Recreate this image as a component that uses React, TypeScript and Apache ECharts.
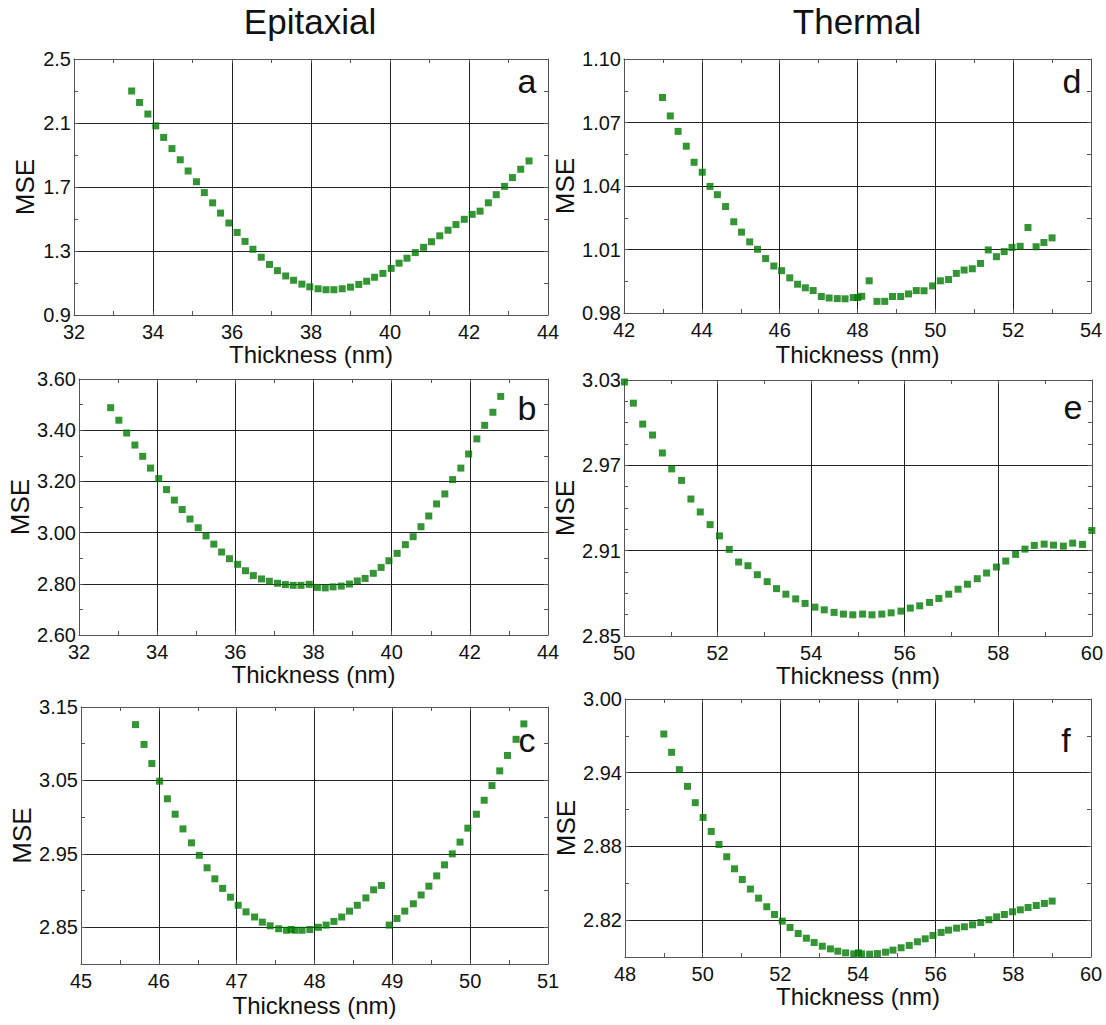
import React, { useEffect, useRef } from "react";
import * as echarts from "echarts";

// ---------- data ----------
const aThickness = [33.46,33.66,33.87,34.07,34.27,34.48,34.69,34.89,35.10,35.30,35.51,35.71,35.92,36.13,36.33,36.53,36.74,36.95,37.15,37.36,37.56,37.77,37.97,38.18,38.38,38.58,38.79,39.00,39.21,39.41,39.61,39.82,40.03,40.23,40.43,40.64,40.85,41.05,41.26,41.47,41.67,41.88,42.08,42.28,42.49,42.69,42.90,43.10,43.31,43.52];
const aMse = [2.300,2.228,2.156,2.082,2.010,1.940,1.870,1.800,1.733,1.665,1.601,1.537,1.475,1.416,1.360,1.311,1.261,1.216,1.177,1.144,1.117,1.093,1.076,1.064,1.058,1.058,1.064,1.074,1.091,1.111,1.136,1.160,1.191,1.224,1.255,1.290,1.323,1.358,1.395,1.430,1.465,1.498,1.529,1.549,1.601,1.652,1.704,1.759,1.811,1.863];

const bThickness = [32.81,33.02,33.22,33.43,33.63,33.83,34.04,34.24,34.44,34.64,34.84,35.05,35.25,35.45,35.65,35.85,36.06,36.26,36.46,36.67,36.87,37.08,37.28,37.48,37.68,37.89,38.10,38.30,38.50,38.71,38.92,39.12,39.32,39.53,39.73,39.93,40.14,40.35,40.55,40.75,40.95,41.15,41.36,41.56,41.77,41.97,42.18,42.38,42.59,42.79];
const bMse = [3.488,3.439,3.389,3.342,3.298,3.252,3.211,3.168,3.127,3.090,3.053,3.019,2.987,2.955,2.924,2.898,2.876,2.851,2.832,2.819,2.810,2.802,2.797,2.794,2.794,2.798,2.786,2.784,2.788,2.791,2.799,2.811,2.821,2.841,2.864,2.890,2.919,2.953,2.984,3.023,3.065,3.112,3.151,3.207,3.252,3.307,3.366,3.419,3.470,3.532];

const cThickness = [45.70,45.81,45.91,46.01,46.11,46.21,46.31,46.42,46.52,46.62,46.72,46.82,46.92,47.02,47.12,47.23,47.33,47.43,47.54,47.64,47.70,47.75,47.84,47.94,48.05,48.15,48.25,48.35,48.45,48.55,48.66,48.76,48.86,48.96,49.06,49.16,49.27,49.37,49.47,49.57,49.67,49.77,49.87,49.97,50.08,50.18,50.28,50.38,50.48,50.59,50.69];
const cMse = [3.126,3.099,3.073,3.049,3.025,3.004,2.984,2.965,2.948,2.931,2.916,2.903,2.891,2.880,2.871,2.864,2.857,2.852,2.848,2.846,2.847,2.846,2.846,2.847,2.850,2.853,2.858,2.864,2.872,2.880,2.890,2.901,2.907,2.853,2.862,2.872,2.882,2.894,2.906,2.920,2.935,2.950,2.966,2.985,3.004,3.023,3.043,3.063,3.084,3.106,3.127];

const dThickness = [42.99,43.19,43.39,43.60,43.80,44.01,44.21,44.40,44.61,44.82,45.02,45.23,45.43,45.64,45.85,46.05,46.26,46.46,46.66,46.86,47.07,47.27,47.48,47.68,47.89,48.01,48.11,48.30,48.50,48.70,48.90,49.11,49.31,49.51,49.71,49.93,50.13,50.34,50.54,50.74,50.95,51.16,51.36,51.57,51.77,51.97,52.18,52.38,52.59,52.79,53.00];
const dMse = [1.0818,1.0731,1.0658,1.0588,1.0512,1.0465,1.0398,1.0359,1.0303,1.0231,1.0182,1.0136,1.0101,1.0057,1.0022,1.0000,0.9966,0.9936,0.9919,0.9906,0.9878,0.9871,0.9868,0.9867,0.9873,0.9873,0.9879,0.9952,0.9855,0.9855,0.9878,0.9878,0.9890,0.9906,0.9905,0.9928,0.9952,0.9958,0.9987,1.0003,1.0009,1.0034,1.0098,1.0066,1.0090,1.0110,1.0115,1.0204,1.0113,1.0133,1.0155];

const eThickness = [50.01,50.20,50.40,50.61,50.82,51.02,51.23,51.43,51.63,51.84,52.04,52.25,52.45,52.65,52.85,53.06,53.26,53.46,53.67,53.87,54.08,54.28,54.49,54.69,54.89,55.10,55.30,55.51,55.71,55.92,56.12,56.32,56.53,56.73,56.94,57.14,57.34,57.55,57.75,57.96,58.16,58.37,58.57,58.77,58.98,59.18,59.39,59.59,59.80,60.00];
const eMse = [3.0286,3.0137,2.9990,2.9913,2.9787,2.9675,2.9594,2.9463,2.9372,2.9283,2.9204,2.9109,2.9020,2.8994,2.8931,2.8882,2.8833,2.8794,2.8761,2.8729,2.8703,2.8684,2.8666,2.8654,2.8649,2.8654,2.8649,2.8654,2.8663,2.8675,2.8696,2.8712,2.8736,2.8764,2.8794,2.8829,2.8864,2.8903,2.8943,2.8985,2.9027,2.9074,2.9111,2.9137,2.9146,2.9139,2.9132,2.9153,2.9144,2.9242];

const fThickness = [49.00,49.20,49.40,49.61,49.81,50.01,50.22,50.42,50.62,50.82,51.02,51.23,51.44,51.65,51.85,52.05,52.25,52.46,52.67,52.87,53.08,53.29,53.48,53.68,53.89,54.01,54.09,54.30,54.50,54.71,54.90,55.11,55.32,55.53,55.73,55.93,56.14,56.33,56.54,56.74,56.95,57.16,57.37,57.57,57.77,57.98,58.18,58.38,58.59,58.80,59.00];
const fMse = [2.9715,2.9566,2.9425,2.9289,2.9156,2.9036,2.8922,2.8816,2.8716,2.8618,2.8531,2.8453,2.8379,2.8309,2.8246,2.8192,2.8140,2.8091,2.8053,2.8018,2.7988,2.7966,2.7947,2.7934,2.7926,2.7934,2.7926,2.7923,2.7928,2.7939,2.7956,2.7975,2.7994,2.8024,2.8048,2.8075,2.8100,2.8119,2.8135,2.8146,2.8162,2.8181,2.8203,2.8227,2.8246,2.8268,2.8284,2.8303,2.8319,2.8336,2.8355];

// tick labels
const aXTicks = ["32","34","36","38","40","42","44"];
const aYTicks = ["0.9","1.3","1.7","2.1","2.5"];
const bXTicks = ["32","34","36","38","40","42","44"];
const bYTicks = ["2.60","2.80","3.00","3.20","3.40","3.60"];
const cXTicks = ["45","46","47","48","49","50","51"];
const cYTicks = ["2.85","2.95","3.05","3.15"];
const dXTicks = ["42","44","46","48","50","52","54"];
const dYTicks = ["0.98","1.01","1.04","1.07","1.10"];
const eXTicks = ["50","52","54","56","58","60"];
const eYTicks = ["2.85","2.91","2.97","3.03"];
const fXTicks = ["48","50","52","54","56","58","60"];
const fYTicks = ["2.82","2.88","2.94","3.00"];

const columnTitles = ["Epitaxial", "Thermal"];
const panelLetters = ["a", "b", "c", "d", "e", "f"];
const xTitle = "Thickness (nm)";
const yTitle = "MSE";

// ---------- layout / style ----------
const FONT = "'Liberation Sans', Arial, Helvetica, sans-serif";
const GRID_COLOR = "#222";
const AXIS_COLOR = "#555";
const TEXT_COLOR = "#111";
const MARK_COLOR = "#007a00";
const NONE = "rgba(0,0,0,0)";

type Panel = {
  thickness: number[]; mse: number[]; xTicks: string[]; yTicks: string[];
  xMin: number; xMax: number; xStep: number; yMin: number; yMax: number; yStep: number;
  grid: { left: number; top: number; width: number; height: number };
  xNameGap: number; yNameGap: number;
  letter: [number, number];
};

const panels: Panel[] = [
  { thickness: aThickness, mse: aMse, xTicks: aXTicks, yTicks: aYTicks, xMin: 32, xMax: 44, xStep: 1, yMin: 0.9, yMax: 2.5, yStep: 0.2,
    grid: { left: 74, top: 59, width: 474, height: 256 }, xNameGap: 27, yNameGap: 36, letter: [527, 81] },
  { thickness: bThickness, mse: bMse, xTicks: bXTicks, yTicks: bYTicks, xMin: 32, xMax: 44, xStep: 1, yMin: 2.6, yMax: 3.6, yStep: 0.1,
    grid: { left: 79, top: 379, width: 469, height: 256 }, xNameGap: 27, yNameGap: 40, letter: [527, 408] },
  { thickness: cThickness, mse: cMse, xTicks: cXTicks, yTicks: cYTicks, xMin: 45, xMax: 51, xStep: 0.5, yMin: 2.8, yMax: 3.15, yStep: 0.05,
    grid: { left: 81, top: 707, width: 467, height: 257 }, xNameGap: 29, yNameGap: 43, letter: [527, 740] },
  { thickness: dThickness, mse: dMse, xTicks: dXTicks, yTicks: dYTicks, xMin: 42, xMax: 54, xStep: 1, yMin: 0.98, yMax: 1.1, yStep: 0.015,
    grid: { left: 624, top: 59, width: 467, height: 254 }, xNameGap: 29, yNameGap: 35, letter: [1072, 81] },
  { thickness: eThickness, mse: eMse, xTicks: eXTicks, yTicks: eYTicks, xMin: 50, xMax: 60, xStep: 1, yMin: 2.85, yMax: 3.03, yStep: 0.015,
    grid: { left: 624, top: 380, width: 468, height: 256 }, xNameGap: 26, yNameGap: 33, letter: [1073, 407] },
  { thickness: fThickness, mse: fMse, xTicks: fXTicks, yTicks: fYTicks, xMin: 48, xMax: 60, xStep: 1, yMin: 2.79, yMax: 3.0, yStep: 0.03,
    grid: { left: 625, top: 699, width: 466, height: 258 }, xNameGap: 24, yNameGap: 34, letter: [1066, 740] },
];

function lineCycle(min: number, step: number, labels: string[]) {
  const first = parseFloat(labels[0]);
  const major = parseFloat(labels[1]) - first;
  const period = Math.max(1, Math.round(major / step));
  const offset = Math.round((first - min) / step) % period;
  return Array.from({ length: period }, (_, k) => (k === offset ? GRID_COLOR : NONE));
}

function labelFormatter(labels: string[]) {
  return (v: number) => {
    const hit = labels.find((s) => Math.abs(parseFloat(s) - v) < 1e-6);
    return hit ?? "";
  };
}

function buildOption() {
  const grid: any[] = [];
  const xAxis: any[] = [];
  const yAxis: any[] = [];
  const series: any[] = [];
  const graphic: any[] = [];

  const tick = { show: true, inside: true, length: 4, lineStyle: { color: AXIS_COLOR, width: 1 } };
  const line = { show: true, onZero: false, lineStyle: { color: AXIS_COLOR, width: 1 } };
  const lab = { color: TEXT_COLOR, fontSize: 20, fontFamily: FONT };
  const nameStyle = { color: TEXT_COLOR, fontSize: 24, fontFamily: FONT };

  panels.forEach((p, i) => {
    grid.push({ ...p.grid, containLabel: false, show: false });
    xAxis.push({
      type: "value", gridIndex: i, position: "bottom", min: p.xMin, max: p.xMax, interval: p.xStep,
      axisLine: line, axisTick: tick,
      axisLabel: { ...lab, margin: 7, formatter: labelFormatter(p.xTicks), showMinLabel: true, showMaxLabel: true },
      splitLine: { show: true, showMinLine: true, showMaxLine: true, lineStyle: { color: lineCycle(p.xMin, p.xStep, p.xTicks), width: 1 } },
      name: xTitle, nameLocation: "middle", nameGap: p.xNameGap, nameTextStyle: nameStyle,
    });
    xAxis.push({
      type: "value", gridIndex: i, position: "top", min: p.xMin, max: p.xMax, interval: p.xStep,
      axisLine: line, axisTick: tick, axisLabel: { show: false }, splitLine: { show: false },
    });
    yAxis.push({
      type: "value", gridIndex: i, position: "left", min: p.yMin, max: p.yMax, interval: p.yStep,
      axisLine: line, axisTick: tick,
      axisLabel: { ...lab, margin: 3, formatter: labelFormatter(p.yTicks), showMinLabel: true, showMaxLabel: true },
      splitLine: { show: true, showMinLine: true, showMaxLine: true, lineStyle: { color: lineCycle(p.yMin, p.yStep, p.yTicks), width: 1 } },
      name: yTitle, nameLocation: "middle", nameGap: p.yNameGap, nameRotate: 90,
      nameTextStyle: { ...nameStyle, fontSize: 26 },
    });
    yAxis.push({
      type: "value", gridIndex: i, position: "right", min: p.yMin, max: p.yMax, interval: p.yStep,
      axisLine: line, axisTick: tick, axisLabel: { show: false }, splitLine: { show: false },
    });
    series.push({
      type: "scatter", xAxisIndex: 2 * i, yAxisIndex: 2 * i, symbol: "rect", symbolSize: 7, clip: false,
      itemStyle: { color: MARK_COLOR }, silent: true,
      data: p.thickness.map((t, k) => [t, p.mse[k]]),
    });
    graphic.push({
      type: "text", x: p.letter[0], y: p.letter[1], z: 10,
      style: { text: panelLetters[i], fontSize: 34, fontFamily: FONT, fill: TEXT_COLOR, align: "center", verticalAlign: "middle" },
    });
  });

  graphic.push({
    type: "text", x: 310, y: 21,
    style: { text: columnTitles[0], fontSize: 35, fontFamily: FONT, fill: TEXT_COLOR, align: "center", verticalAlign: "middle" },
  });
  graphic.push({
    type: "text", x: 857, y: 21,
    style: { text: columnTitles[1], fontSize: 35, fontFamily: FONT, fill: TEXT_COLOR, align: "center", verticalAlign: "middle" },
  });

  return { animation: false, backgroundColor: "#fff", grid, xAxis, yAxis, series, graphic };
}

export default function App() {
  const ref = useRef<HTMLDivElement>(null);
  useEffect(() => {
    if (!ref.current) return;
    const chart = echarts.init(ref.current, undefined, { renderer: "svg" });
    chart.setOption(buildOption() as any);
    return () => chart.dispose();
  }, []);
  return (
    <div
      ref={ref}
      style={{ position: "absolute", left: 0, top: 0, width: 1106, height: 1025, background: "#fff" }}
    />
  );
}
